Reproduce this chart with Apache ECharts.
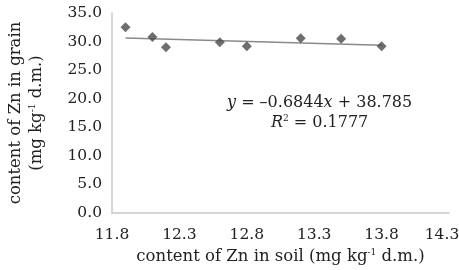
<!DOCTYPE html>
<html lang="en">
<head>
    <meta charset="UTF-8">
    <title>Zn soil vs grain</title>
    <script src="https://cdn.jsdelivr.net/npm/echarts@6/dist/echarts.min.js"></script>
    <style>
        html, body { margin: 0; padding: 0; background: #fff; }
    </style>
</head>
<body>
<div id="chart" style="width: 459px;height: 270px;"></div>
<script>
    // data
    var soilZn = [11.9, 12.1, 12.2, 12.6, 12.8, 13.2, 13.5, 13.8];
    var grainZn = [32.5, 30.8, 29.0, 29.9, 29.2, 30.6, 30.5, 29.2];
    var xTicks = [11.8, 12.3, 12.8, 13.3, 13.8, 14.3];
    var yTicks = [0, 5, 10, 15, 20, 25, 30, 35];
    // trendline from the printed equation
    var slope = -0.6844;
    var intercept = 38.785;
    var rSquared = 0.1777;

    var points = soilZn.map(function (x, i) { return [x, grainZn[i]]; });
    var xMin = Math.min.apply(null, soilZn);
    var xMax = Math.max.apply(null, soilZn);
    var trend = [[xMin, slope * xMin + intercept], [xMax, slope * xMax + intercept]];

    var font = 'DejaVu Serif';
    var sup = { fontSize: 9, fontFamily: font, color: '#222', padding: [0, 0, 8, 0] };

    var myChart = echarts.init(document.getElementById('chart'));
    var option = {
        animation: false,
        backgroundColor: '#fff',
        grid: { left: 112, right: 10, top: 13, bottom: 57, outerBoundsMode: 'none' },
        xAxis: {
            type: 'value',
            min: xTicks[0],
            max: xTicks[xTicks.length - 1],
            interval: 0.1,
            splitLine: { show: false },
            axisTick: { show: false },
            axisLine: { lineStyle: { color: '#c8c8c8', width: 1.5 } },
            axisLabel: {
                margin: 14,
                fontFamily: font, fontSize: 15.5, color: '#222',
                rich: { last: { fontFamily: font, fontSize: 15.5, color: '#222', padding: [0, 14, 0, 0] } },
                formatter: function (v) {
                    for (var i = 0; i < xTicks.length; i++) {
                        if (Math.abs(v - xTicks[i]) < 1e-6) {
                            var s = xTicks[i].toFixed(1);
                            // last label sits a little inside the edge, like the original
                            return i === xTicks.length - 1 ? '{last|' + s + '}' : s;
                        }
                    }
                    return '';
                }
            },
            name: 'content of Zn in soil (mg kg{sup|-1} d.m.)',
            nameLocation: 'middle',
            nameGap: 35,
            nameTextStyle: { fontFamily: font, fontSize: 16.5, color: '#222', rich: { sup: sup } }
        },
        yAxis: {
            type: 'value',
            min: yTicks[0],
            max: yTicks[yTicks.length - 1],
            interval: 5,
            splitLine: { show: false },
            axisTick: { show: false },
            axisLine: { show: true, lineStyle: { color: '#c8c8c8', width: 1.5 } },
            axisLabel: {
                margin: 10,
                fontFamily: font, fontSize: 15.5, color: '#222',
                formatter: function (v) { return v.toFixed(1); }
            },
            name: 'content of Zn in grain\n(mg kg{sup|-1} d.m.)',
            nameLocation: 'middle',
            nameRotate: 90,
            nameGap: 65,
            nameTextStyle: { fontFamily: font, fontSize: 16.5, lineHeight: 21, color: '#222', rich: { sup: sup } }
        },
        graphic: [{
            type: 'text',
            left: 227,
            top: 93,
            style: {
                text: '{i|y} = –0.6844{i|x} + 38.785\n{i|R}{s|2} = ' + rSquared,
                textAlign: 'center',
                x: 91,
                fontFamily: font,
                fontSize: 16,
                lineHeight: 20,
                fill: '#222',
                rich: {
                    i: { fontFamily: font, fontSize: 16, fontStyle: 'italic', color: '#222' },
                    s: { fontFamily: font, fontSize: 9, color: '#222', padding: [0, 0, 8, 0] }
                }
            }
        }],
        series: [
            {
                name: 'trend',
                type: 'line',
                data: trend,
                symbol: 'none',
                lineStyle: { color: '#8a8a8a', width: 1.5 },
                z: 1
            },
            {
                name: 'Zn',
                type: 'scatter',
                data: points,
                symbol: 'diamond',
                symbolSize: [10, 10],
                itemStyle: { color: '#4a4a4a' },
                z: 2
            }
        ]
    };
    myChart.setOption(option);
</script>
</body>
</html>
